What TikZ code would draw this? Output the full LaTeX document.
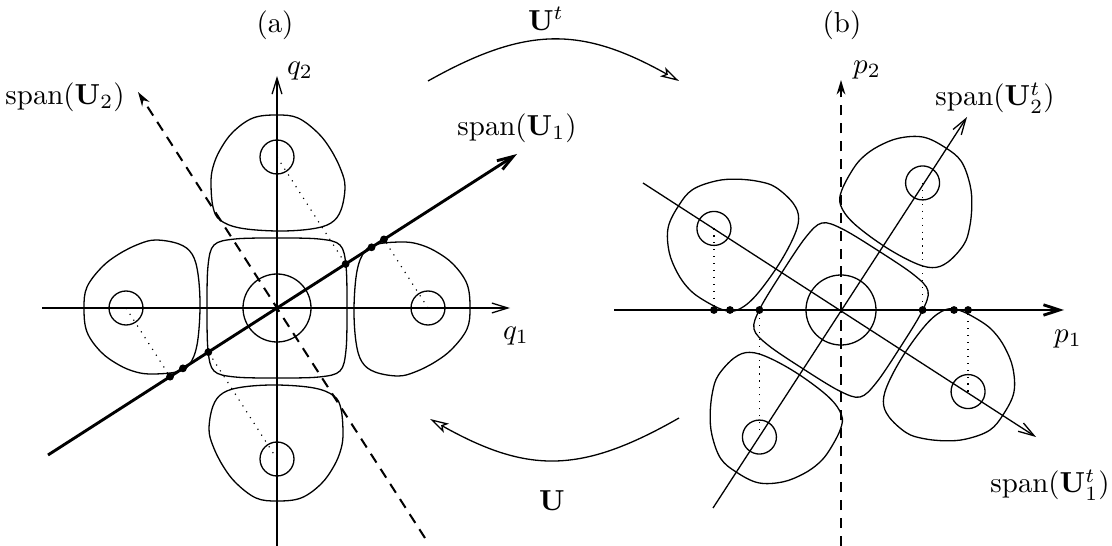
\documentclass[tikz,border=0pt]{standalone}
\usepackage{amsmath,amssymb}
\usetikzlibrary{arrows.meta, calc}

% one lobe, apex pointing away from the centre, rotated about the panel origin
\newcommand{\drawlobe}[1]{%
  \draw[lobe line, rotate=#1] plot[smooth cycle, tension=0.6] coordinates {
    (0,-193) (-24,-190) (-44,-176) (-57,-158) (-64,-141) (-66,-125)
    (-64,-101) (-57,-88) (-37,-80) (0,-77) (34,-79) (54,-85)
    (64,-98) (68,-121) (64,-138) (54,-158) (41,-175) (21,-190)};
  \draw[lobe line, rotate=#1] (0,-151) circle (17);
}
% the rounded square in the middle
\newcommand{\drawcore}{%
  \draw[lobe line] plot[smooth cycle, tension=0.55] coordinates {
    (0,-70) (42,-69) (63,-63) (69,-42) (70,0) (69,42) (63,63) (42,69)
    (0,70) (-42,69) (-63,63) (-69,42) (-70,0) (-69,-42) (-63,-63) (-42,-69)};
}

\begin{document}
\begin{tikzpicture}[x=0.01215cm, y=-0.01215cm,
    lobe line/.style={line width=0.45pt},
    axis line/.style={line width=0.45pt, -{Straight Barb[length=5.5pt, width=3.4pt]}},
    span thick/.style={line width=1pt, -{Straight Barb[length=5.5pt, width=3.6pt]}},
    span thin/.style={line width=0.45pt, -{Straight Barb[length=5.5pt, width=3.4pt]}},
    span dashed/.style={line width=0.7pt, dash pattern=on 3.6pt off 2.6pt, -{Stealth[length=5pt, width=3pt]}},
    proj line/.style={line width=0.4pt, dotted},
    proj dot/.style={circle, fill=black, inner sep=0pt, minimum size=2.7pt},
    map arrow/.style={line width=0.45pt, -{Stealth[open, length=6.5pt, width=3.6pt, inset=1.5pt]}}
]
    \useasboundingbox (0,0) rectangle (1112,546);

    % ---------------- panel (a) ----------------
    \coordinate (Oa) at (277,308);
    \begin{scope}[shift={(Oa)}]
        \foreach \ang in {0,90,180,270} {
            \drawlobe{\ang}
            \path[rotate=\ang] (0,-151) coordinate (qa\ang);
        }
        \drawcore
        \draw[lobe line] (0,0) circle (34);
    \end{scope}

    % axes q1, q2
    \coordinate (Q1s) at (42,308);
    \coordinate (Q1e) at (510,308);
    \coordinate (Q2s) at (277,546);
    \coordinate (Q2e) at (277,76);
    \draw[axis line] (Q1s) -- (Q1e);
    \draw[axis line] (Q2s) -- (Q2e);

    % span lines
    \coordinate (U1s) at (48,455);
    \coordinate (U1e) at (517,154);
    \coordinate (U2s) at (425,538);
    \coordinate (U2e) at (138,92);
    \draw[span dashed] (U2s) -- (U2e);
    \draw[span thick] (U1s) -- (U1e);

    % projections onto span(U1)
    \foreach \ang in {0,90,180,270} {
        \node[proj dot] (da\ang) at ($(U1s)!(qa\ang)!(U1e)$) {};
        \draw[proj line] (qa\ang) -- (da\ang);
    }
    \node[proj dot] (dta1) at ($(Oa)!0.394!(U1e)$) {};
    \node[proj dot] (dta2) at ($(Oa)!-0.392!(U1e)$) {};

    % labels
    \node (la) at (275,25) {(a)};
    \node (lq1) at (516,336) {$q_1$};
    \node (lq2) at (300,71) {$q_2$};
    \node (lU1) at (517,128) {$\mathrm{span}(\mathbf{U}_1)$};
    \node (lU2) at (65,97) {$\mathrm{span}(\mathbf{U}_2)$};

    % ---------------- panel (b) ----------------
    \coordinate (Ob) at (841,310);
    \begin{scope}[shift={(Ob)}, rotate=-32.7]
        \foreach \ang in {0,90,180,270} {
            \drawlobe{\ang}
            \path[rotate=\ang] (0,-151) coordinate (pb\ang);
        }
        \drawcore
        \draw[lobe line] (0,0) circle (35);
    \end{scope}

    % axes p1, p2
    \coordinate (P1s) at (614,310);
    \coordinate (P1e) at (1064,310);
    \coordinate (P2s) at (841,546);
    \coordinate (P2e) at (841,80);
    \draw[span dashed] (P2s) -- (P2e);
    \draw[span thick] (P1s) -- (P1e);

    % rotated span lines
    \coordinate (V1s) at (643,183);
    \coordinate (V1e) at (1036,437);
    \coordinate (V2s) at (713,508);
    \coordinate (V2e) at (967,117);
    \draw[span thin] (V1s) -- (V1e);
    \draw[span thin] (V2s) -- (V2e);

    % projections onto p1
    \foreach \ang in {0,90,180,270} {
        \node[proj dot] (db\ang) at (pb\ang |- Ob) {};
        \draw[proj line] (pb\ang) -- (db\ang);
    }
    \node[proj dot] (dtb1) at (730,310) {};
    \node[proj dot] (dtb2) at (954,310) {};

    % labels
    \node (lb) at (842,25) {(b)};
    \node (lp1) at (1068,339) {$p_1$};
    \node (lp2) at (867,70) {$p_2$};
    \node (lV2) at (995,98) {$\mathrm{span}(\mathbf{U}_2^t)$};
    \node (lV1) at (1050,485) {$\mathrm{span}(\mathbf{U}_1^t)$};

    % ---------------- maps between panels ----------------
    \coordinate (mt1) at (428,81);
    \coordinate (mt2) at (679,81);
    \coordinate (mb1) at (679,418);
    \coordinate (mb2) at (430,419);
    \draw[map arrow] (mt1) .. controls +(98,-55) and +(-98,-55) .. (mt2);
    \draw[map arrow] (mb1) .. controls +(-98,56) and +(98,55) .. (mb2);
    \node (lUt) at (546,19) {$\mathbf{U}^t$};
    \node (lU) at (552,501) {$\mathbf{U}$};
\end{tikzpicture}
\end{document}
